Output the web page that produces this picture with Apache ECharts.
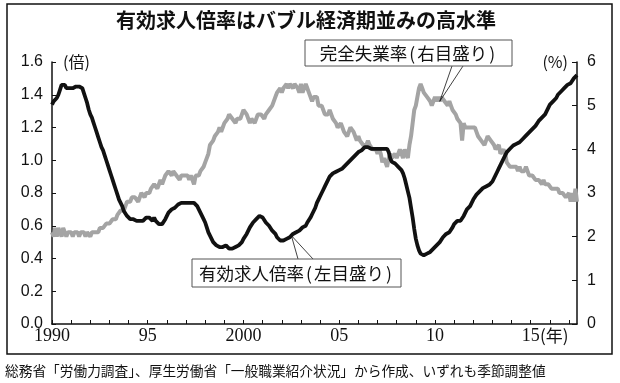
<!DOCTYPE html>
<html><head><meta charset="utf-8">
<script src="https://cdn.jsdelivr.net/npm/echarts@6.0.0/dist/echarts.min.js"></script>
<style>html,body{margin:0;padding:0;background:#fff}#c{width:620px;height:383px}</style>
</head><body><div id="c"></div>
<script>
const startYear = 1990;
// 有効求人倍率 (倍), monthly, Jan 1990 – Jun 2017
const jobsRatio = [
1.34,1.36,1.35,1.38,1.40,1.43,1.46,1.45,1.46,1.44,1.45,1.44,
1.45,1.44,1.43,1.45,1.44,1.45,1.44,1.44,1.41,1.38,1.35,1.31,
1.28,1.26,1.23,1.20,1.17,1.14,1.11,1.08,1.06,1.03,1.00,0.97,
0.94,0.91,0.88,0.85,0.82,0.79,0.76,0.74,0.72,0.69,0.68,0.66,
0.65,0.64,0.63,0.64,0.63,0.63,0.64,0.63,0.64,0.63,0.64,0.65,
0.64,0.65,0.64,0.63,0.65,0.63,0.62,0.61,0.62,0.61,0.62,0.64,
0.66,0.68,0.69,0.70,0.71,0.71,0.72,0.73,0.74,0.74,0.74,0.74,
0.74,0.74,0.74,0.74,0.74,0.74,0.74,0.72,0.70,0.68,0.66,0.64,
0.62,0.59,0.56,0.54,0.52,0.50,0.49,0.48,0.48,0.47,0.47,0.47,
0.47,0.48,0.47,0.46,0.46,0.46,0.46,0.47,0.47,0.48,0.49,0.50,
0.52,0.53,0.55,0.57,0.59,0.60,0.62,0.63,0.64,0.65,0.66,0.66,
0.65,0.64,0.62,0.61,0.60,0.59,0.57,0.56,0.55,0.53,0.52,0.51,
0.50,0.51,0.51,0.52,0.53,0.53,0.54,0.55,0.56,0.56,0.57,0.57,
0.58,0.59,0.60,0.60,0.62,0.63,0.65,0.67,0.69,0.71,0.74,0.76,
0.78,0.80,0.82,0.84,0.86,0.88,0.90,0.91,0.92,0.92,0.93,0.94,
0.94,0.95,0.95,0.96,0.97,0.98,0.99,1.00,1.01,1.02,1.03,1.04,
1.05,1.06,1.06,1.07,1.08,1.08,1.08,1.08,1.07,1.08,1.07,1.07,
1.07,1.07,1.07,1.07,1.07,1.06,1.07,1.05,1.01,0.99,0.98,0.98,
0.97,0.96,0.95,0.94,0.92,0.89,0.85,0.81,0.77,0.71,0.65,0.58,
0.52,0.48,0.45,0.43,0.42,0.42,0.43,0.43,0.44,0.44,0.45,0.46,
0.47,0.48,0.49,0.50,0.51,0.53,0.54,0.55,0.56,0.56,0.57,0.59,
0.61,0.62,0.63,0.63,0.63,0.64,0.66,0.68,0.70,0.71,0.72,0.74,
0.76,0.77,0.79,0.80,0.81,0.82,0.83,0.83,0.84,0.84,0.85,0.86,
0.87,0.89,0.91,0.93,0.95,0.97,0.99,1.01,1.03,1.05,1.06,1.07,
1.08,1.09,1.10,1.10,1.11,1.11,1.12,1.13,1.14,1.15,1.16,1.17,
1.18,1.19,1.20,1.21,1.22,1.24,1.25,1.26,1.27,1.28,1.30,1.32,
1.34,1.35,1.36,1.37,1.38,1.40,1.41,1.42,1.43,1.44,1.45,1.46,
1.46,1.47,1.48,1.50,1.51,1.52
];
// 完全失業率 (%), monthly, Jan 1990 – Jun 2017
const unemployment = [
2.1,2.0,2.2,2.0,2.2,2.1,2.0,2.2,2.1,2.0,2.1,2.1,
2.1,2.0,2.1,2.1,2.1,2.0,2.1,2.1,2.1,2.0,2.1,2.1,
2.0,2.1,2.1,2.1,2.1,2.1,2.2,2.2,2.2,2.2,2.3,2.3,
2.3,2.3,2.4,2.4,2.4,2.5,2.5,2.6,2.6,2.6,2.7,2.8,
2.8,2.8,2.9,2.9,2.9,2.9,2.8,2.9,3.0,3.0,2.9,3.0,
3.0,3.0,3.1,3.1,3.2,3.2,3.1,3.2,3.3,3.2,3.3,3.4,
3.4,3.5,3.5,3.4,3.5,3.5,3.4,3.4,3.3,3.4,3.4,3.4,
3.4,3.4,3.3,3.4,3.3,3.2,3.4,3.4,3.4,3.5,3.5,3.6,
3.7,3.8,3.9,4.1,4.1,4.2,4.3,4.3,4.4,4.5,4.4,4.5,
4.6,4.6,4.7,4.8,4.8,4.7,4.7,4.6,4.7,4.7,4.7,4.8,
4.9,4.9,4.8,4.7,4.6,4.7,4.7,4.6,4.7,4.8,4.8,4.8,
4.8,4.7,4.8,4.8,4.9,4.9,5.0,5.0,5.2,5.3,5.3,5.4,
5.3,5.4,5.4,5.5,5.4,5.5,5.5,5.4,5.5,5.5,5.4,5.3,
5.5,5.3,5.4,5.5,5.4,5.3,5.3,5.1,5.2,5.2,5.2,5.0,
5.0,5.0,4.9,4.8,4.8,4.8,4.9,4.8,4.7,4.7,4.6,4.5,
4.5,4.6,4.5,4.4,4.4,4.3,4.4,4.5,4.5,4.4,4.3,4.2,
4.3,4.2,4.2,4.1,4.1,4.1,4.2,4.1,4.1,4.0,4.0,4.0,
3.9,4.0,3.9,3.7,3.8,3.7,3.6,3.8,3.9,3.8,3.8,3.9,
3.8,3.9,4.0,3.9,3.8,4.0,3.9,3.8,4.1,4.3,4.6,4.9,
5.0,5.2,5.4,5.5,5.4,5.3,5.3,5.2,5.2,5.1,5.0,5.1,
5.2,5.1,5.2,5.1,5.2,5.2,5.1,5.1,5.0,5.1,5.0,4.9,
4.9,4.8,4.7,4.7,4.6,4.2,4.6,4.5,4.5,4.5,4.5,4.5,
4.5,4.5,4.4,4.3,4.3,4.2,4.2,4.1,4.2,4.3,4.3,4.2,
4.2,4.1,4.0,4.0,4.1,3.9,3.9,4.0,3.9,3.7,3.7,3.6,
3.6,3.6,3.6,3.6,3.5,3.6,3.5,3.5,3.5,3.6,3.5,3.4,
3.4,3.4,3.4,3.3,3.3,3.3,3.3,3.2,3.3,3.2,3.2,3.2,
3.2,3.1,3.1,3.1,3.1,3.1,3.0,3.0,3.0,3.0,2.9,2.9,
3.0,2.8,3.0,2.8,3.1,2.8
];
const yearTickLabels = {1990:'1990',1995:'95',2000:'2000',2005:'05',2010:'10',2015:'15'};
const leftAxis = {min:0, max:1.6, interval:0.2};
const rightAxis = {min:0, max:6, interval:1};
const titleText = '有効求人倍率はバブル経済期並みの高水準';
const sourceText = '総務省「労働力調査」、厚生労働省「一般職業紹介状況」から作成、いずれも季節調整値';
const urLabel = '完全失業率{p|(}右目盛り{p|)}';
const jrLabel = '有効求人倍率{p|(}左目盛り{p|)}';
const urAnchorIndex = 243, jrAnchorIndex = 150;

const months = jobsRatio.map((_, i) => (startYear + Math.floor(i / 12)) + '-' + (i % 12 + 1));

const CJK = '"Noto Sans CJK JP", sans-serif';
const chart = echarts.init(document.getElementById('c'), null, {renderer: 'canvas'});
chart.setOption({
  animation: false,
  backgroundColor: '#fff',
  grid: {left: 52, right: 43, top: 62, bottom: 59},
  xAxis: {
    type: 'category', data: months, boundaryGap: false,
    axisLine: {lineStyle: {color: '#111', width: 1.5}},
    axisTick: {inside: true, length: 4, lineStyle: {color: '#111', width: 1}, interval: (i) => i % 12 === 0},
    axisLabel: {
      interval: (i) => i % 60 === 0,
      formatter: (v) => { const y = +v.split('-')[0]; return yearTickLabels[y] || ''; },
      fontFamily: '"Liberation Serif", serif', fontSize: 18, color: '#111', margin: 3
    },
    splitLine: {show: false}
  },
  yAxis: [{
    type: 'value', min: leftAxis.min, max: leftAxis.max, interval: leftAxis.interval,
    axisLine: {show: true, lineStyle: {color: '#111', width: 1.5}},
    axisTick: {show: true, inside: true, length: 4, lineStyle: {color: '#111'}},
    axisLabel: {formatter: (v) => v.toFixed(1), fontFamily: '"Liberation Sans", Arial, sans-serif', fontSize: 16, color: '#111', margin: 9},
    splitLine: {show: false}
  }, {
    type: 'value', position: 'right', min: rightAxis.min, max: rightAxis.max, interval: rightAxis.interval,
    axisLine: {show: true, lineStyle: {color: '#111', width: 1.5}},
    axisTick: {show: true, inside: true, length: 5, lineStyle: {color: '#111'}},
    axisLabel: {fontFamily: '"Liberation Sans", Arial, sans-serif', fontSize: 16, color: '#111', margin: 10},
    splitLine: {show: false}
  }],
  series: [{
    name: '完全失業率', type: 'line', yAxisIndex: 1, data: unemployment,
    showSymbol: false, lineStyle: {color: '#a4a4a4', width: 4}, z: 2
  }, {
    name: '有効求人倍率', type: 'line', yAxisIndex: 0, data: jobsRatio,
    showSymbol: false, lineStyle: {color: '#111', width: 3.8}, z: 3
  }]
});

const ur = chart.convertToPixel({seriesIndex: 0}, [urAnchorIndex, unemployment[urAnchorIndex]]);
const jr = chart.convertToPixel({seriesIndex: 1}, [jrAnchorIndex, jobsRatio[jrAnchorIndex]]);

function callout(box, text, legA, legB, anchor, fs) {
  return [
    {type: 'polyline', shape: {points: [legA, anchor, legB]}, style: {stroke: '#111', lineWidth: 0.8, fill: null}, z: 20},
    {type: 'rect', shape: {x: box[0], y: box[1], width: box[2], height: box[3]}, style: {fill: '#fff', stroke: '#555', lineWidth: 1}, z: 21},
    {type: 'text', x: box[0] + box[2] / 2, y: box[1] + box[3] / 2, style: {
      text: text, font: fs + 'px ' + CJK, fill: '#111', align: 'center', verticalAlign: 'middle',
      rich: {p: {fontSize: fs, fontFamily: CJK, padding: [0, 2, 0, 2], fill: '#111'}}
    }, z: 22}
  ];
}

chart.setOption({
  graphic: [
    {type: 'rect', shape: {x: 7, y: 4, width: 605, height: 350}, style: {fill: null, stroke: '#111', lineWidth: 1.5}, z: 0, silent: true},
    {type: 'text', x: 306, y: 20, style: {text: titleText, font: 'bold 20px ' + CJK, fill: '#111', align: 'center', verticalAlign: 'middle'}},
    {type: 'text', x: 5, y: 371, style: {text: sourceText, font: '13.7px ' + CJK, fill: '#111', align: 'left', verticalAlign: 'middle'}},
    {type: 'text', x: 63, y: 62, style: {text: '(倍)', font: '16px ' + CJK, fill: '#111', align: 'left', verticalAlign: 'middle'}},
    {type: 'text', x: 568, y: 62, style: {text: '(%)', font: '16px ' + CJK, fill: '#111', align: 'right', verticalAlign: 'middle'}},
    {type: 'text', x: 540, y: 336, style: {text: '(年)', font: '17px ' + CJK, fill: '#111', align: 'left', verticalAlign: 'middle'}},
    ...callout([305, 40, 207, 26], urLabel, [452, 66], [463, 66], ur, 17.5),
    ...callout([192, 259, 209, 28], jrLabel, [298, 259], [313, 259], jr, 17.5)
  ]
});
</script>
</body></html>
